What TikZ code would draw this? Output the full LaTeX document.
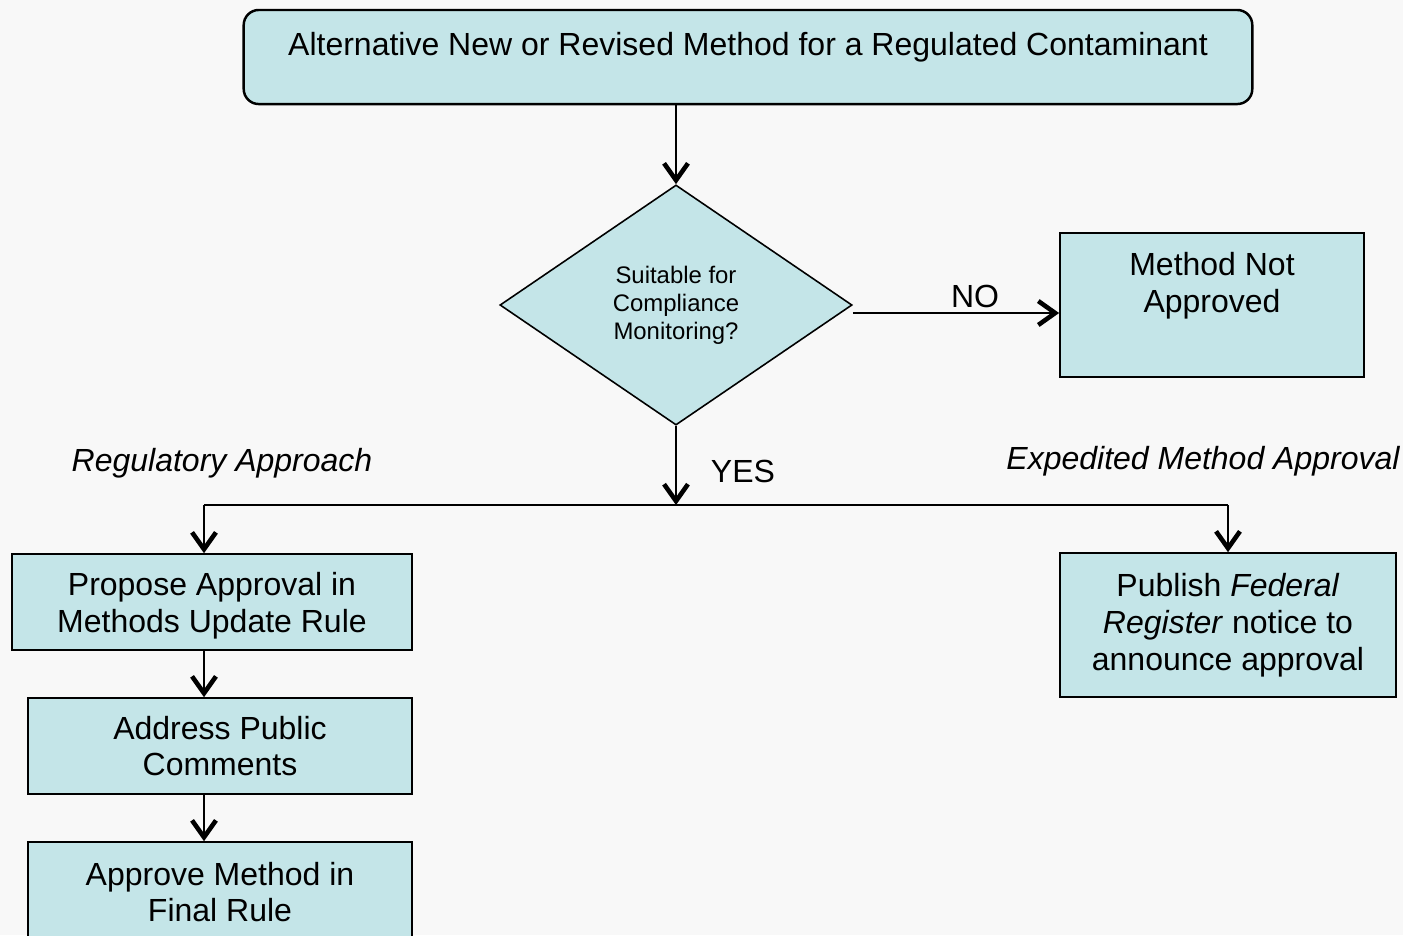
\documentclass[tikz,border=0pt]{standalone}
\usepackage{fontspec}
\setmainfont{Liberation Sans}
\usetikzlibrary{shapes.geometric, arrows.meta, positioning}

\definecolor{boxfill}{HTML}{C4E5E8}
\definecolor{bggray}{HTML}{F8F8F8}

\tikzset{
    stepbox/.style={draw, fill=boxfill, line width=0.45pt, align=center, inner sep=0pt,
        font=\fontsize{9.1}{10.5}\selectfont},
    decision/.style={diamond, draw, fill=boxfill, line width=0.45pt, align=center, inner sep=0pt,
        minimum width=3.52cm, minimum height=2.4cm, font=\fontsize{6.8}{8}\selectfont},
    lbl/.style={inner sep=0pt, font=\fontsize{9.1}{10.5}\selectfont},
    arr/.style={line width=0.6pt, -{Straight Barb[length=4.8pt, width=6.8pt, line width=1.3pt]}},
}

\begin{document}
\begin{tikzpicture}[x=0.01cm, y=-0.01cm]
    \clip (0,0) rectangle (1403,935);
    \fill[bggray] (0,0) rectangle (1403,935);

    % Start and decision
    \node[stepbox, rounded corners=0.15cm, line width=0.7pt, minimum width=10.08cm,
        text height=0.455cm, text depth=0.485cm] (start) at (748,57)
        {Alternative New or Revised Method for a Regulated Contaminant};
    \node[decision] (suit) at (676,305) {Suitable for\\Compliance\\Monitoring?};
    \node[stepbox, minimum width=3.04cm, minimum height=1.44cm] (notok) at (1212,305)
        {Method Not\\Approved\\[0.08cm]\mbox{}};

    % Regulatory approach (left)
    \node[stepbox, minimum width=4.0cm, minimum height=0.96cm] (propose) at (212,602)
        {\\[-0.06cm]Propose Approval in\\Methods Update Rule};
    \node[stepbox, minimum width=3.84cm, minimum height=0.96cm] (address) at (220,746)
        {Address Public\\Comments};
    \node[stepbox, minimum width=3.84cm, minimum height=1.0cm] (final) at (220,892)
        {Approve Method in\\Final Rule};

    % Expedited approval (right)
    \node[stepbox, minimum width=3.36cm, minimum height=1.44cm] (publish) at (1228,625)
        {Publish \textit{Federal}\\\textit{Register} notice to\\announce approval};

    % Labels
    \node[lbl] (no) at (975,296) {NO};
    \node[lbl] (yes) at (743,471) {YES};
    \node[lbl, font=\fontsize{9.1}{10.5}\selectfont\itshape] (regl) at (222,463) {Regulatory Approach};
    \node[lbl, font=\fontsize{9.1}{10.5}\selectfont\itshape] (expl) at (1203,461) {Expedited Method Approval};

    % Split points
    \coordinate (mid) at (676,505);
    \coordinate (lsplit) at (204,505);
    \coordinate (rsplit) at (1228,505);

    % Connectors
    \draw[arr] (suit.north |- start.south) -- (suit.north);
    \draw[arr] ([yshift=-0.08cm]suit.east) -- ([yshift=-0.08cm]notok.west);
    \draw[arr] (suit.south) -- (mid);
    \draw[line width=0.6pt] (lsplit) -- (rsplit);
    \draw[arr] (lsplit) -- (lsplit |- propose.north);
    \draw[arr] (rsplit) -- (publish.north);
    \draw[arr] (lsplit |- propose.south) -- (lsplit |- address.north);
    \draw[arr] (lsplit |- address.south) -- (lsplit |- final.north);
\end{tikzpicture}
\end{document}
